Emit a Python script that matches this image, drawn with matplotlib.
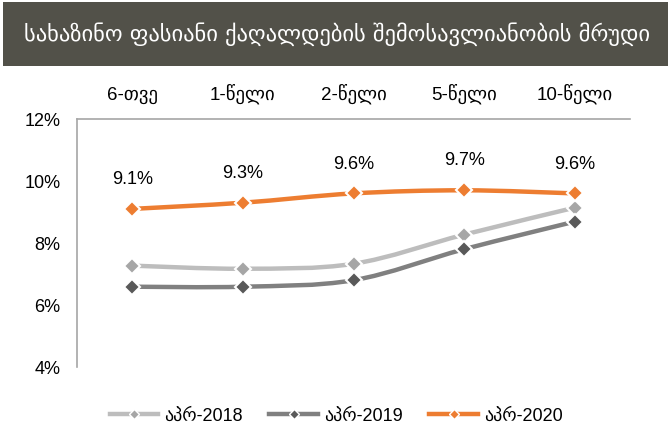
import matplotlib
matplotlib.use("Agg")
import matplotlib.pyplot as plt
from matplotlib.path import Path
from matplotlib.patches import PathPatch, Rectangle
from matplotlib.lines import Line2D
import numpy as np

title = "სახაზინო ფასიანი ქაღალდების შემოსავლიანობის მრუდი"
categories = ["6-თვე", "1-წელი", "2-წელი", "5-წელი", "10-წელი"]
series_names = ["აპრ-2018", "აპრ-2019", "აპრ-2020"]
apr2018 = [7.27, 7.17, 7.33, 8.27, 9.14]
apr2019 = [6.59, 6.59, 6.80, 7.80, 8.69]
apr2020 = [9.1, 9.3, 9.6, 9.7, 9.6]
label_2020 = ["9.1%", "9.3%", "9.6%", "9.7%", "9.6%"]
yticks = [4, 6, 8, 10, 12]

FONT = ["Liberation Sans", "DejaVu Sans"]
plt.rcParams["font.family"] = FONT

fig = plt.figure(figsize=(6.72, 4.34), dpi=100)
fig.patches.append(Rectangle((3 / 672, 1 - 66 / 434), 665 / 672, 64 / 434,
                             transform=fig.transFigure, facecolor="#525149",
                             edgecolor="none", zorder=0))
fig.text(337 / 672, 1 - 34 / 434, title, color="white", fontsize=16.2,
         family=["DejaVu Sans"], ha="center", va="center")

ax = fig.add_axes([77 / 672, 1 - 367 / 434, (630 - 77) / 672, (367 - 119) / 434])
ax.set_xlim(0, len(categories))
ax.set_ylim(4, 12)
x = np.arange(len(categories)) + 0.5


def smooth_path(xs, ys):
    pts = np.column_stack([xs, ys])
    verts = [pts[0]]
    codes = [Path.MOVETO]
    n = len(pts)
    for i in range(n - 1):
        p0 = pts[i - 1] if i > 0 else pts[i]
        p1 = pts[i]
        p2 = pts[i + 1]
        p3 = pts[i + 2] if i + 2 < n else pts[i + 1]
        c1 = p1 + (p2 - p0) / 6.0
        c2 = p2 - (p3 - p1) / 6.0
        verts += [c1, c2, p2]
        codes += [Path.CURVE4] * 3
    return Path(verts, codes)


styles = [
    (apr2018, "#BDBDBD", "#A6A6A6"),
    (apr2019, "#808080", "#595959"),
    (apr2020, "#ED7D31", "#ED7D31"),
]
for vals, lc, mc in styles:
    patch = PathPatch(smooth_path(x, np.array(vals, dtype=float)), facecolor="none",
                      edgecolor=lc, lw=3.2, capstyle="butt", zorder=2)
    ax.add_patch(patch)
    ax.plot(x, vals, linestyle="none", marker="D", markersize=8, markerfacecolor=mc,
            markeredgecolor="white", markeredgewidth=1.5, zorder=3)

for xi, v, s in zip(x, apr2020, label_2020):
    ax.annotate(s, (xi, v), xytext=(0, 15), textcoords="offset points",
                ha="center", va="bottom", fontsize=13, color="#000000")

ax.set_yticks(yticks)
ax.set_yticklabels([f"{t}%" for t in yticks], fontsize=13)
ax.set_xticks(x)
ax.set_xticklabels(categories, fontsize=13.5)
ax.xaxis.tick_top()
ax.tick_params(axis="both", length=0)
ax.tick_params(axis="y", pad=12)
ax.tick_params(axis="x", pad=11)
for side in ["right", "bottom"]:
    ax.spines[side].set_visible(False)
for side in ["left", "top"]:
    ax.spines[side].set_color("#A6A6A6")
    ax.spines[side].set_linewidth(1.2)

handles = [
    Line2D([], [], color=lc, lw=3.2, marker="D", markersize=5, markerfacecolor=mc,
           markeredgecolor="white", markeredgewidth=1.0)
    for _, lc, mc in styles
]
fig.legend(handles, series_names, loc="center", bbox_to_anchor=(336 / 672, 1 - 416 / 434),
           ncol=3, frameon=False, fontsize=13, handlelength=2.7, columnspacing=1.5,
           handletextpad=0.3)

fig.savefig("out.png", dpi=100)
